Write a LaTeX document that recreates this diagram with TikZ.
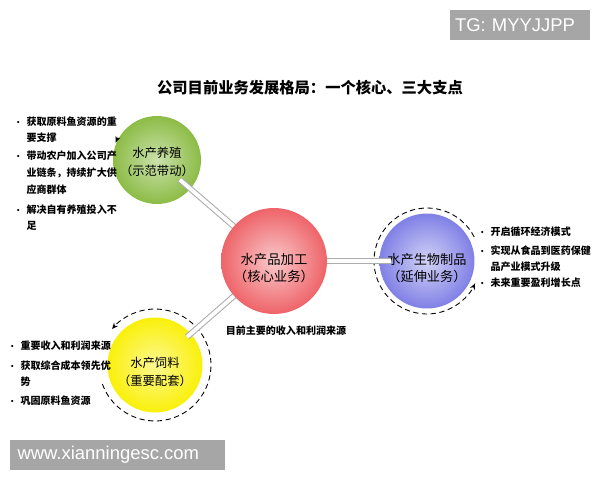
\documentclass[tikz,border=0pt]{standalone}
\usepackage{fontspec}
\setmainfont{Noto Sans CJK SC}
\newfontfamily\wmfont{Liberation Sans}
\usetikzlibrary{arrows.meta}

\definecolor{farmgreen}{RGB}{140,188,70}
\definecolor{corered}{RGB}{238,100,105}
\definecolor{bioblue}{RGB}{128,128,230}
\definecolor{feedyellow}{RGB}{250,240,10}
\definecolor{wmgray}{RGB}{166,166,166}

\newcommand{\bul}{\makebox[7pt][l]{\fontsize{4.5}{5}\selectfont\textbullet}}
\newcommand{\ind}{\hspace*{7pt}}

\tikzset{
  ball/.style={circle, inner sep=0pt, shading=radial},
  balltext/.style={align=center, inner sep=0pt, yshift=-4pt, font=\fontsize{7}{10}\selectfont},
  pipe/.style={draw=gray!65, double=white, double distance=2.2pt, line width=0.6pt},
  ring/.style={densely dashed, line width=0.5pt, -{Stealth[length=3.5pt,width=3pt]}},
  note/.style={anchor=north west, align=left, inner sep=0pt, font=\bfseries\fontsize{5.7}{9.6}\selectfont},
  wmbox/.style={fill=wmgray, text=white, inner ysep=0pt, minimum height=0.6cm, align=left, font=\wmfont\fontsize{10.5}{12}\selectfont}
}

\begin{document}
\begin{tikzpicture}[x=0.02cm, y=-0.02cm]
  \useasboundingbox[fill=white] (0,0) rectangle (600,480);

  \node[font=\bfseries\fontsize{8.7}{10}\selectfont] (title) at (310,88) {公司目前业务发展格局：一个核心、三大支点};

  % three supports
  \node[ball, minimum size=1.76cm, inner color=farmgreen!45!white, outer color=farmgreen] (farm) at (157,160) {};
  \node[balltext, yshift=3pt] (farmtext) at (farm) {水产养殖\\（示范带动）};
  \node[ball, minimum size=1.9cm, inner color=bioblue!35!white, outer color=bioblue] (bio) at (427,261) {};
  \node[balltext, font=\fontsize{7.5}{10}\selectfont] (biotext) at (bio) {水产生物制品\\（延伸业务）};
  \node[ball, minimum size=1.9cm, inner color=feedyellow!45!white, outer color=feedyellow] (feed) at (155,365) {};
  \node[balltext] (feedtext) at (feed) {水产饲料\\（重要配套）};

  \draw[ring] (bio) ++(27:1.06cm) arc[start angle=27, end angle=335, radius=1.06cm];
  \draw[ring] (feed) ++(-160:1.12cm) arc[start angle=-160, end angle=140, radius=1.12cm];
  \draw[ring, solid] (farm) ++(150:0.9cm) arc[start angle=150, end angle=157, radius=0.9cm];

  % pipes to the core
  \coordinate (corec) at (274,261);
  \draw[pipe, shorten <=-8pt] (farm) -- (corec);
  \draw[pipe, shorten >=-7pt] (corec) -- (bio);
  \draw[pipe, shorten >=-3pt] (corec) -- (feed);
  \node[ball, minimum size=2.12cm, inner color=corered!35!white, outer color=corered] (core) at (corec) {};
  \node[balltext, font=\fontsize{7.6}{9.5}\selectfont] (coretext) at (core) {水产品加工\\（核心业务）};

  \node[note, anchor=north] (corenote) at (286,325) {目前主要的收入和利润来源};

  \foreach \y/\t [count=\i] in {116/{\bul 获取原料鱼资源的重\\\ind 要支撑},
      151/{\bul 带动农户加入公司产\\\ind 业链条，持续扩大供\\\ind 应商群体},
      204/{\bul 解决自有养殖投入不\\\ind 足}}
    \node[note] (farmnote\i) at (14,\y) {\t};

  \foreach \y/\t [count=\i] in {227/{\bul 开启循环经济模式},
      245/{\bul 实现从食品到医药保健\\\ind 品产业模式升级},
      278/{\bul 未来重要盈利增长点}}
    \node[note] (bionote\i) at (478,\y) {\t};

  \foreach \y/\t [count=\i] in {340/{\bul 重要收入和利润来源},
      360/{\bul 获取综合成本领先优\\\ind 势},
      395/{\bul 巩固原料鱼资源}}
    \node[note] (feednote\i) at (8,\y) {\t};

  \node[wmbox, text width=2.6cm, inner xsep=0.1cm] (tg) at (520,25) {TG: MYYJJPP};
  \node[wmbox, text width=4.0cm, inner xsep=0.15cm] (web) at (117.5,455) {www.xianningesc.com};
\end{tikzpicture}
\end{document}
